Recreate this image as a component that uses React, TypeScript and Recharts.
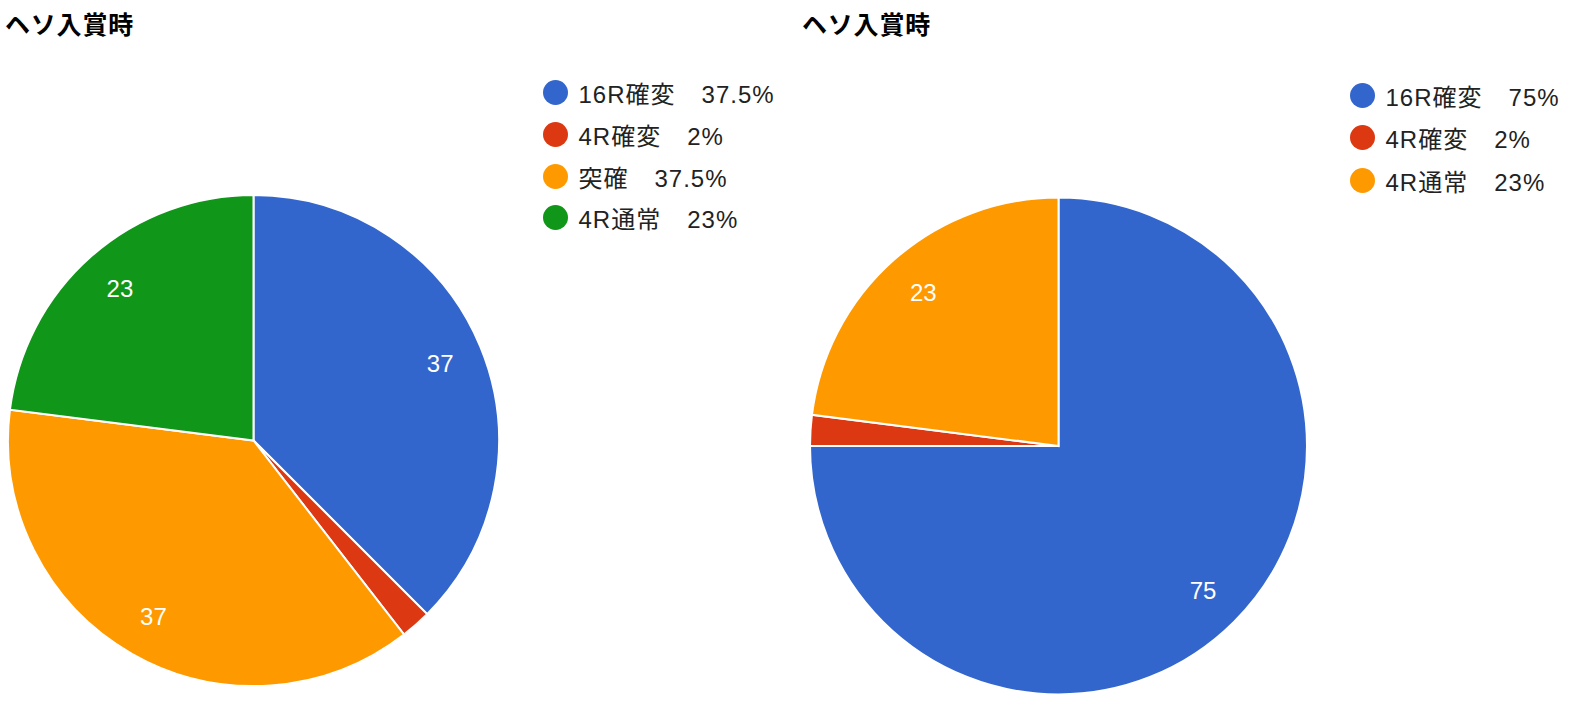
import { PieChart, Pie, Cell } from 'recharts';

// left chart
const leftNames = ['16R確変', '4R確変', '突確', '4R通常'];
const leftValues = [37.5, 2, 37.5, 23];
const leftPercents = ['37.5%', '2%', '37.5%', '23%'];
const leftColors = ['#3366cc', '#dc3912', '#ff9900', '#109618'];

// right chart
const rightNames = ['16R確変', '4R確変', '4R通常'];
const rightValues = [75, 2, 23];
const rightPercents = ['75%', '2%', '23%'];
const rightColors = ['#3366cc', '#dc3912', '#ff9900'];

const title = 'ヘソ入賞時';

const FONT = "Arial, 'Liberation Sans', 'Noto Sans CJK JP', sans-serif";
const RAD = Math.PI / 180;

const leftData = leftNames.map((name, i) => ({ name, value: leftValues[i] }));
const rightData = rightNames.map((name, i) => ({ name, value: rightValues[i] }));

// white value labels inside the slices, small slices get none
const renderLabel = (props: any) => {
  const { cx, cy, midAngle, outerRadius, value, percent } = props;
  if (percent < 0.05) return null;
  const r = outerRadius * 0.823;
  const x = cx + r * Math.cos(-midAngle * RAD);
  const y = cy + r * Math.sin(-midAngle * RAD);
  return (
    <text x={x} y={y} fill="#fff" fontSize={24} fontFamily={FONT} textAnchor="middle" dominantBaseline="central">
      {Math.floor(value)}
    </text>
  );
};

const Legend = ({ names, percents, colors, left, top, rowHeight }: any) => (
  <div style={{ position: 'absolute', left, top }}>
    {names.map((n: string, i: number) => (
      <div key={n} style={{ display: 'flex', alignItems: 'center', height: rowHeight }}>
        <div style={{ width: 25, height: 25, borderRadius: '50%', background: colors[i], marginRight: 11 }} />
        <span style={{ fontSize: 24, color: '#222', fontFamily: FONT, whiteSpace: 'pre', letterSpacing: 1 }}>
          {n}
          <span style={{ marginLeft: 26 }}>{percents[i]}</span>
        </span>
      </div>
    ))}
  </div>
);

const Title = ({ left }: any) => (
  <div style={{ position: 'absolute', left, top: 9, fontSize: 25, letterSpacing: 0.8, fontWeight: 'bold', fontFamily: FONT, color: '#000', lineHeight: '32px' }}>
    {title}
  </div>
);

const App = () => {
  return (
    <div style={{ position: 'absolute', left: 0, top: 0, width: 1577, height: 705, background: '#fff', overflow: 'hidden' }}>
      <PieChart
        width={1577}
        height={705}
        margin={{ top: 0, right: 0, bottom: 0, left: 0 }}
        style={{ position: 'absolute', left: 0, top: 0 }}
      >
        <Pie
          data={leftData}
          dataKey="value"
          cx={253.5}
          cy={440.5}
          outerRadius={245.5}
          startAngle={90}
          endAngle={-270}
          stroke="#fff"
          strokeWidth={2}
          label={renderLabel}
          labelLine={false}
          isAnimationActive={false}
        >
          {leftData.map((d, i) => (
            <Cell key={`l-${i}`} fill={leftColors[i]} />
          ))}
        </Pie>
        <Pie
          data={rightData}
          dataKey="value"
          cx={1058.5}
          cy={446}
          outerRadius={248.5}
          startAngle={90}
          endAngle={-270}
          stroke="#fff"
          strokeWidth={2}
          label={renderLabel}
          labelLine={false}
          isAnimationActive={false}
        >
          {rightData.map((d, i) => (
            <Cell key={`r-${i}`} fill={rightColors[i]} />
          ))}
        </Pie>
      </PieChart>
      <Title left={5} />
      <Title left={802} />
      <Legend names={leftNames} percents={leftPercents} colors={leftColors} left={542.5} top={72} rowHeight={41.7} />
      <Legend names={rightNames} percents={rightPercents} colors={rightColors} left={1349.5} top={74} rowHeight={42.5} />
    </div>
  );
};

export default App;
